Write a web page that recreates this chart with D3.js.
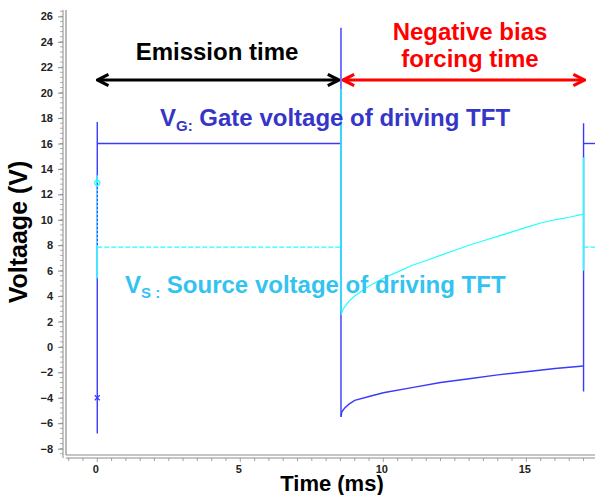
<!DOCTYPE html>
<html><head><meta charset="utf-8">
<script src="https://cdn.jsdelivr.net/npm/d3@7"></script>
<style>body{margin:0;background:#fff}svg{display:block;font-family:Arial,"Liberation Sans",sans-serif}</style>
</head><body><svg id="c" width="595" height="495"></svg>
<script>
// ---- data ----
const yTicks = [-8,-6,-4,-2,0,2,4,6,8,10,12,14,16,18,20,22,24,26];
const xTicks = [0,5,10,15];
const tSwitch1 = 0, tSwitch2 = 8.52, tSwitch3 = 17.0, tEnd = 17.4;
// Gate voltage (V_G)
const vgEmission = [[0,16],[8.52,16]];
const vgForcingT = [8.52,8.55,8.65,8.8,9.0,9.5,10,11,12,13,14,15,16,17.0];
const vgForcingV = [-5.5,-5.1,-4.8,-4.5,-4.2,-3.9,-3.6,-3.2,-2.8,-2.5,-2.2,-1.95,-1.7,-1.5];
const vgAfter = [[17.0,16],[17.4,16]];
const vgVerticals = [[0,-6.8,17.7],[8.52,-5.5,25.1],[17.0,-3.5,17.6]];
// Source voltage (V_S)
const vsEmission = [[0,7.85],[8.52,7.85]];
const vsForcingT = [8.52,8.6,8.8,9.0,9.5,10,10.5,11,11.5,12,12.5,13,13.5,14,14.5,15,15.5,16,16.5,17.0];
const vsForcingV = [2.5,3.0,3.6,4.0,4.8,5.4,5.9,6.4,6.8,7.2,7.6,8.0,8.35,8.7,9.05,9.4,9.75,10.0,10.2,10.45];
const vsAfter = [[17.0,7.85],[17.4,7.85]];
const vsVerticals = [[0,5.4,7.85],[0,12.9,13.5],[8.52,2.7,20.3],[17.0,6.0,14.9]];
const vsDotted = [[0,7.85,12.9]];
const markerCircle = [[0,12.9]];
const markerCross = [[0,-4.0]];

// ---- scales ----
const svg = d3.select("#c");
const x = d3.scaleLinear().domain([-1.1,17.4]).range([65.8,595]);
const y = d3.scaleLinear().domain([-8.5,26.5]).range([455,10]);
const blue = "#3a3aff", cyan = "#22ffff", axisCol = "#8c8c8c";

// axes
const yAxis = d3.axisLeft(y).tickValues(yTicks).tickSize(5).tickFormat(d3.format("d"));
const gy = svg.append("g").attr("transform","translate(63,0)").call(yAxis);
gy.select(".domain").attr("stroke",axisCol).attr("d",`M0,${y(26.5)}V${y(-8.5)+3}`);
gy.selectAll(".tick line").attr("stroke",axisCol);
gy.selectAll(".tick text").attr("font-size",11).attr("font-weight","bold").attr("fill","#222").attr("x",-10);
const yMinor = d3.range(-8.4,26.5,0.4);
gy.selectAll(".ymin").data(yMinor).enter().append("line").attr("class","ymin")
  .attr("x1",-3).attr("x2",0).attr("y1",d=>y(d)).attr("y2",d=>y(d)).attr("stroke",axisCol).attr("stroke-width",0.7);
svg.append("line").attr("x1",66).attr("x2",66).attr("y1",y(26.5)).attr("y2",455).attr("stroke",axisCol).attr("stroke-width",1.2);
svg.append("line").attr("x1",66).attr("x2",595).attr("y1",455).attr("y2",455).attr("stroke",axisCol).attr("stroke-width",1.2);

const xAxis = d3.axisBottom(x).tickValues(xTicks).tickSize(0).tickFormat(d3.format("d"));
const gx = svg.append("g").attr("transform","translate(0,458)").call(xAxis);
gx.select(".domain").attr("stroke",axisCol).attr("d",`M${x(-1.1)},0H595`);
gx.selectAll(".tick text").attr("font-size",11).attr("font-weight","bold").attr("fill","#222").attr("y",7).attr("dy","0.71em").attr("dx",-2);
const xMinor = d3.range(-1.0,17.5,0.5);
gx.selectAll(".xmin").data(xMinor).enter().append("line").attr("class","xmin")
  .attr("x1",d=>x(d)).attr("x2",d=>x(d)).attr("y1",0).attr("y2",d=>Number.isInteger(d)&&d%5===0?4:3).attr("stroke",axisCol).attr("stroke-width",0.8);

// axis titles
svg.append("text").attr("x",332).attr("y",491).attr("text-anchor","middle").attr("font-size",22).attr("font-weight","bold").text("Time (ms)");
svg.append("text").attr("transform","translate(27,232) rotate(-90)").attr("text-anchor","middle").attr("font-size",25).attr("font-weight","bold").text("Voltaage (V)");

// ---- series ----
const line = d3.line().x(d=>x(d[0])).y(d=>y(d[1]));
const g = svg.append("g");
// V_G
vgVerticals.forEach(v=>g.append("path").attr("d",line([[v[0],v[1]],[v[0],v[2]]])).attr("stroke",blue).attr("stroke-width",1.4).attr("fill","none"));
[vgEmission, vgForcingT.map((t,i)=>[t,vgForcingV[i]]), vgAfter].forEach(s=>
  g.append("path").attr("d",line(s)).attr("stroke",blue).attr("stroke-width",1.4).attr("fill","none"));
// V_S
vsVerticals.forEach(v=>g.append("path").attr("d",line([[v[0],v[1]],[v[0],v[2]]])).attr("stroke",cyan).attr("stroke-width",1.4).attr("fill","none"));
vsDotted.forEach(v=>g.append("path").attr("d",line([[v[0],v[1]],[v[0],v[2]]])).attr("stroke",cyan).attr("stroke-width",1.4).attr("stroke-dasharray","2,2").attr("fill","none"));
[vsEmission, vsAfter].forEach(s=>
  g.append("path").attr("d",line(s)).attr("stroke",cyan).attr("stroke-width",1.2).attr("stroke-dasharray","5,2").attr("fill","none"));
g.append("path").attr("d",line(vsForcingT.map((t,i)=>[t,vsForcingV[i]]))).attr("stroke",cyan).attr("stroke-width",1.2).attr("fill","none");
// markers
markerCircle.forEach(m=>g.append("circle").attr("cx",x(m[0])).attr("cy",y(m[1])).attr("r",2.5).attr("fill","none").attr("stroke",cyan).attr("stroke-width",1.2));
markerCross.forEach(m=>g.append("path").attr("d",`M${x(m[0])-2.5},${y(m[1])-2.5}l5,5M${x(m[0])+2.5},${y(m[1])-2.5}l-5,5`).attr("stroke",blue).attr("stroke-width",1.2));

// ---- annotations ----
const defs = svg.append("defs");
function arrowHead(id,col){
  defs.append("marker").attr("id",id).attr("viewBox","0 0 10 10").attr("refX",9).attr("refY",5)
    .attr("markerWidth",14).attr("markerHeight",14).attr("markerUnits","userSpaceOnUse").attr("orient","auto-start-reverse")
    .append("path").attr("d","M1,1L9,5L1,9").attr("fill","none").attr("stroke",col).attr("stroke-width",2.2);
}
arrowHead("ak","#000"); arrowHead("ar","#ff0000");
const ay = 80;
svg.append("line").attr("x1",x(tSwitch1)).attr("x2",x(tSwitch2)-2).attr("y1",ay).attr("y2",ay).attr("stroke","#000").attr("stroke-width",3)
  .attr("marker-start","url(#ak)").attr("marker-end","url(#ak)");
svg.append("line").attr("x1",x(tSwitch2)+2).attr("x2",x(tSwitch3)+1).attr("y1",ay).attr("y2",ay).attr("stroke","#ff0000").attr("stroke-width",3)
  .attr("marker-start","url(#ar)").attr("marker-end","url(#ar)");
svg.append("text").attr("x",217).attr("y",60).attr("text-anchor","middle").attr("font-size",24).attr("font-weight","bold").text("Emission time");
const rt = svg.append("text").attr("x",470).attr("text-anchor","middle").attr("font-size",24).attr("font-weight","bold").attr("fill","#ff0000");
rt.append("tspan").attr("x",470).attr("y",40).text("Negative bias");
rt.append("tspan").attr("x",470).attr("y",67).text("forcing time");

const vg = svg.append("text").attr("x",160).attr("y",126).attr("font-size",24).attr("font-weight","bold").attr("fill","#3535c8");
vg.append("tspan").text("V");
vg.append("tspan").attr("font-size",15).attr("dy",5).text("G:");
vg.append("tspan").attr("dy",-5).text(" Gate voltage of driving TFT");
const vs = svg.append("text").attr("x",125).attr("y",293).attr("font-size",24).attr("font-weight","bold").attr("fill","#33c3f0");
vs.append("tspan").text("V");
vs.append("tspan").attr("font-size",15).attr("dy",5).text("S :");
vs.append("tspan").attr("dy",-5).text(" Source voltage of driving TFT");
</script></body></html>
